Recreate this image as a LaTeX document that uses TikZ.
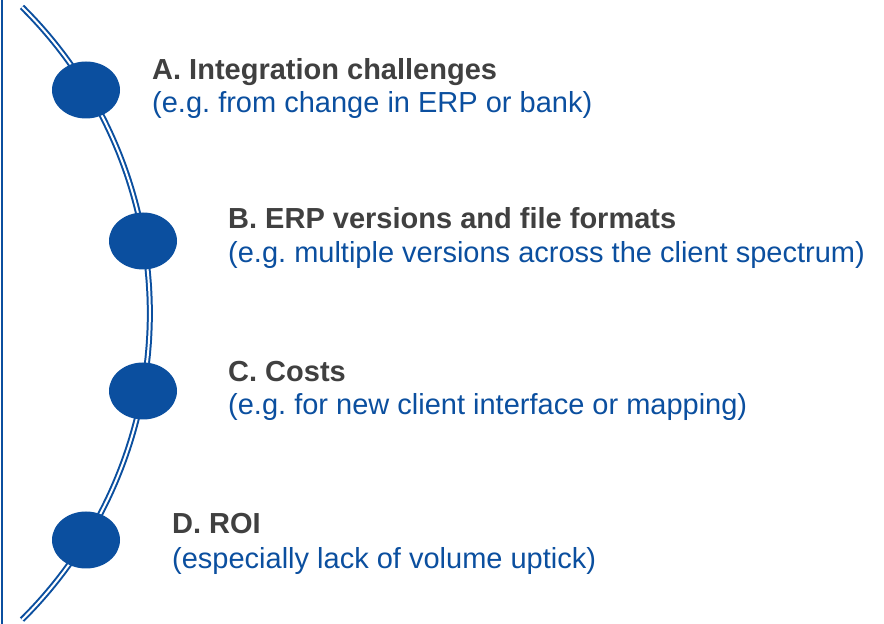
\documentclass[tikz,border=0pt]{standalone}
\usepackage{fontspec}
\setmainfont{Liberation Sans}
\frenchspacing
\usetikzlibrary{shapes.geometric}
\definecolor{bankblue}{HTML}{0B4F9F}
\definecolor{headgray}{HTML}{404040}

\begin{document}
\begin{tikzpicture}[x=1pt,y=1pt]
   \useasboundingbox (0,0) rectangle (884,624);
   \draw[bankblue,line width=2pt] (2,0) -- (2,624);
   \coordinate (top) at (22,617);
   \draw[bankblue,line width=2pt,double=white,double distance=2pt] (top) arc[start angle=45.3,end angle=-45.3,radius=431];
   \begin{scope}[every node/.style={ellipse,fill=bankblue,minimum width=68pt,minimum height=57pt,inner sep=0pt}]
    \node (pa) at (86,534) {};
    \node (pb) at (143,383) {};
    \node (pc) at (143,233) {};
    \node (pd) at (86,84) {};
   \end{scope}
   \begin{scope}[every node/.style={anchor=base west,inner sep=0pt,font=\fontsize{29}{34}\selectfont}]
    \node[text=headgray,font=\fontsize{29}{34}\selectfont\bfseries] (ha) at (152,544) {A. Integration challenges};
    \node[text=bankblue] (sa) at (152,511) {(e.g. from change in ERP or bank)};
    \node[text=headgray,font=\fontsize{29}{34}\selectfont\bfseries] (hb) at (228,395) {B. ERP versions and file formats};
    \node[text=bankblue] (sb) at (228,361) {(e.g. multiple versions across the client spectrum)};
    \node[text=headgray,font=\fontsize{29}{34}\selectfont\bfseries] (hc) at (228,242) {C. Costs};
    \node[text=bankblue] (sc) at (228,209) {(e.g. for new client interface or mapping)};
    \node[text=headgray,font=\fontsize{29}{34}\selectfont\bfseries] (hd) at (172,90) {D. ROI};
    \node[text=bankblue] (sd) at (172,55) {(especially lack of volume uptick)};
   \end{scope}
\end{tikzpicture}
\end{document}
